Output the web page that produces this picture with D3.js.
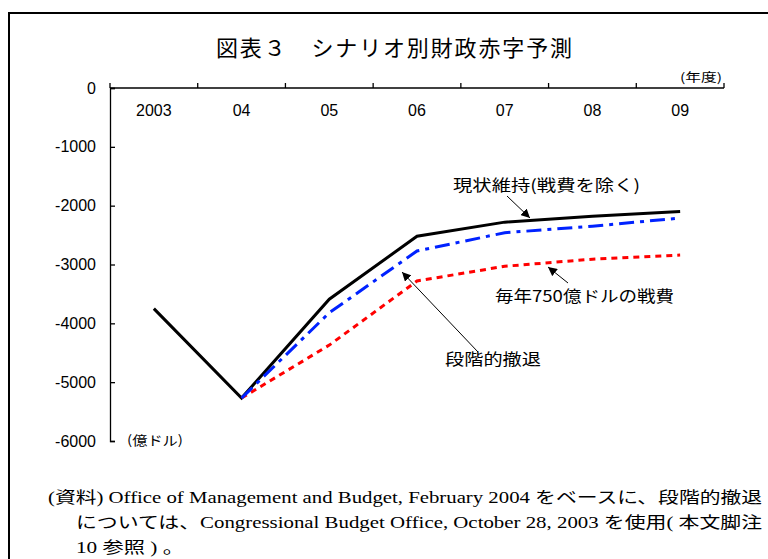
<!DOCTYPE html>
<html>
<head>
<meta charset="utf-8">
<script src="https://cdn.jsdelivr.net/npm/d3@7"></script>
<style>
body { margin: 0; background: #fff; }
text { font-family: "Liberation Sans", "Noto Sans CJK JP", sans-serif; fill: #000; }
.jp { font-family: "Noto Sans CJK JP", sans-serif; }
.note { font-family: "Liberation Serif", "Noto Sans CJK JP", serif; }
</style>
</head>
<body>
<div id="chart"></div>
<script>
// fiscal years
var years = ["2003", "04", "05", "06", "07", "08", "09"];
var yTicks = [0, -1000, -2000, -3000, -4000, -5000, -6000];

// deficit projections, 100 million dollars
var status_quo = [-3750, -5270, -3590, -2520, -2280, -2180, -2100];   // 現状維持(戦費を除く)
var phased = [null, -5270, -3820, -2770, -2460, -2350, -2210];        // 段階的撤退
var war750 = [null, -5270, -4370, -3280, -3030, -2910, -2840];       // 毎年750億ドルの戦費

var series = [
	{ name: "status_quo", values: status_quo, color: "#000000", dash: null },
	{ name: "war750", values: war750, color: "#ff0000", dash: "6,5" },
	{ name: "phased", values: phased, color: "#0022ff", dash: "15,6,4,6" }
];

var svg = d3.select("#chart")
	.append("svg")
	.attr("width", 768)
	.attr("height", 559);

// frame (only left and top edges are visible)
svg.append("path")
	.attr("d", "M9,570 L9,13 L780,13")
	.attr("fill", "none")
	.attr("stroke", "#000")
	.attr("stroke-width", 2);

svg.append("text")
	.attr("class", "jp")
	.attr("x", 216).attr("y", 56)
	.attr("textLength", 356)
	.attr("lengthAdjust", "spacing")
	.style("font-size", "22px")
	.text("図表３　シナリオ別財政赤字予測");

var x = d3.scaleBand()
	.domain(years)
	.range([110, 724]);

var y = d3.scaleLinear()
	.domain([0, -6000])
	.range([88, 441]);

/**  y axis, ticks pointing inward  **/
var yAxis = d3.axisLeft(y)
	.tickValues(yTicks)
	.tickSize(-5)
	.tickPadding(14)
	.tickFormat(function(d) { return d == 0 ? "0" : "-" + Math.abs(d); });

svg.append("g")
	.attr("transform", "translate(110,0)")
	.call(yAxis)
	.call(function(g) { g.select(".domain").attr("stroke-width", 1.3); })
	.call(function(g) { g.selectAll(".tick line").attr("stroke-width", 1.3); })
	.selectAll("text")
	.style("font-family", "Liberation Sans")
	.style("font-size", "16px")
	.attr("fill", "#000");

/**  x axis along the top (value 0)  **/
svg.append("line")
	.attr("x1", x.range()[0]).attr("x2", x.range()[1])
	.attr("y1", y(0)).attr("y2", y(0))
	.attr("stroke", "#000")
	.attr("stroke-width", 1.3);

var bounds = years.map(function(d) { return x(d); }).concat([x.range()[1]]);
svg.selectAll(".xtick")
	.data(bounds)
	.enter()
	.append("line")
	.attr("class", "xtick")
	.attr("x1", function(d) { return d; })
	.attr("x2", function(d) { return d; })
	.attr("y1", y(0))
	.attr("y2", y(0) - 5)
	.attr("stroke", "#000")
	.attr("stroke-width", 1.3);

svg.selectAll(".xlabel")
	.data(years)
	.enter()
	.append("text")
	.attr("class", "xlabel")
	.attr("x", function(d) { return x(d) + x.bandwidth() / 2; })
	.attr("y", 116)
	.attr("text-anchor", "middle")
	.style("font-size", "16px")
	.text(function(d) { return d; });

svg.append("text")
	.attr("class", "jp")
	.attr("x", 680).attr("y", 82)
	.attr("textLength", 42)
	.attr("lengthAdjust", "spacingAndGlyphs")
	.style("font-size", "12px")
	.text("(年度)");

svg.append("text")
	.attr("class", "jp")
	.attr("x", 127).attr("y", 445)
	.attr("textLength", 56)
	.attr("lengthAdjust", "spacingAndGlyphs")
	.style("font-size", "13px")
	.text("(億ドル)");

/**  lines  **/
var line = d3.line()
	.defined(function(d) { return d != null; })
	.x(function(d, i) { return x(years[i]) + x.bandwidth() / 2; })
	.y(function(d) { return y(d); });

svg.selectAll(".series")
	.data(series)
	.enter()
	.append("path")
	.attr("class", "series")
	.attr("d", function(s) { return line(s.values); })
	.attr("fill", "none")
	.attr("stroke", function(s) { return s.color; })
	.attr("stroke-width", 3)
	.attr("stroke-dasharray", function(s) { return s.dash; });

/**  annotations with arrows  **/
svg.append("defs").append("marker")
	.attr("id", "arr")
	.attr("viewBox", "0 0 10 10")
	.attr("refX", 10).attr("refY", 5)
	.attr("markerWidth", 9).attr("markerHeight", 9)
	.attr("markerUnits", "userSpaceOnUse")
	.attr("orient", "auto")
	.append("path")
	.attr("d", "M0,0 L10,5 L0,10 z")
	.attr("fill", "#000");

var notes = [
	{ text: "現状維持(戦費を除く)", tx: 453, ty: 191, w: 187, from: [507, 196], to: [530, 218] },
	{ text: "毎年750億ドルの戦費", tx: 495, ty: 302, w: 179, from: [568, 283], to: [548, 267] },
	{ text: "段階的撤退", tx: 445, ty: 365, w: 96, from: [478, 352], to: [402, 272] }
];

notes.forEach(function(n) {
	svg.append("text")
		.attr("class", "jp")
		.attr("x", n.tx).attr("y", n.ty)
		.attr("textLength", n.w)
		.attr("lengthAdjust", "spacingAndGlyphs")
		.style("font-size", "16px")
		.text(n.text);
	svg.append("line")
		.attr("x1", n.from[0]).attr("y1", n.from[1])
		.attr("x2", n.to[0]).attr("y2", n.to[1])
		.attr("stroke", "#000")
		.attr("stroke-width", 1)
		.attr("marker-end", "url(#arr)");
});

/**  source note  **/
var noteLines = [
	{ t: "(資料) Office of Management and Budget, February 2004 をベースに、段階的撤退", x: 48, y: 503, w: 714 },
	{ t: "については、Congressional Budget Office, October 28, 2003 を使用( 本文脚注", x: 76, y: 528, w: 686 },
	{ t: "10 参照 ) 。", x: 76, y: 553, w: 108 }
];

svg.selectAll(".note")
	.data(noteLines)
	.enter()
	.append("text")
	.attr("class", "note")
	.attr("x", function(d) { return d.x; })
	.attr("y", function(d) { return d.y; })
	.attr("textLength", function(d) { return d.w; })
	.attr("lengthAdjust", "spacingAndGlyphs")
	.style("font-size", "16px")
	.text(function(d) { return d.t; });
</script>
</body>
</html>
